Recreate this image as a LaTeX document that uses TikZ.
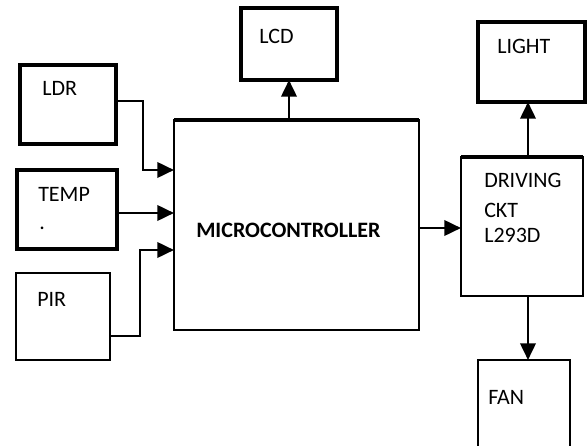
\documentclass[tikz,border=0pt]{standalone}
\usepackage{fontspec}
\setmainfont{Carlito}
\usetikzlibrary{arrows.meta}
\begin{document}
\begin{tikzpicture}[x=0.75pt,y=-0.75pt,
  box/.style={draw, line width=2.5pt, anchor=north west, inner sep=0pt, outer sep=0pt},
  thinbox/.style={draw, line width=1.1pt, anchor=north west, inner sep=0pt, outer sep=0pt},
  topedge/.style={line width=2.5pt},
  lbl/.style={anchor=base west, inner sep=0pt, font=\fontsize{16.5}{19}\selectfont},
  conn/.style={line width=2pt, -{Triangle[length=12.5pt,width=11.5pt]}}]
\useasboundingbox (0,0) rectangle (587,446);

% blocks
\node[box, minimum width=72pt, minimum height=59.25pt] (ldr) at (20,65) {};
\node[box, minimum width=75pt, minimum height=59.25pt] (temp) at (17,170) {};
\node[thinbox, minimum width=70.5pt, minimum height=65.25pt] (pir) at (16,273) {};
\node[thinbox, minimum width=183.75pt, minimum height=157.5pt] (mc) at (174,120) {};
\draw[topedge] (mc.north west) -- (mc.north east);
\node[box, minimum width=72pt, minimum height=54pt] (lcd) at (241,8) {};
\node[box, minimum width=80.25pt, minimum height=60pt] (light) at (478,22) {};
\node[thinbox, minimum width=91.5pt, minimum height=104.25pt] (drive) at (461,157) {};
\draw[topedge] (drive.north west) -- (drive.north east);
\node[thinbox, minimum width=69pt, minimum height=72pt] (fan) at (478,360) {};

% labels
\node[lbl] (ldrtxt) at (42,95) {LDR};
\node[lbl] (temptxt) at (38,201) {TEMP};
\node[lbl] (tempdot) at (39,229) {.};
\node[lbl] (pirtxt) at (37,306) {PIR};
\node[lbl] (lcdtxt) at (259,44) {LCD};
\node[lbl] (lighttxt) at (497,54) {LIGHT};
\node[lbl] (drvtxt1) at (484,187) {DRIVING};
\node[lbl] (drvtxt2) at (484,217) {CKT};
\node[lbl] (drvtxt3) at (484,243) {L293D};
\node[lbl] (fantxt) at (488,404) {FAN};
\node[lbl, font=\fontsize{16.5}{19}\selectfont\bfseries] (mctxt) at (196,238) {MICROCONTROLLER};

% connector end points on the blocks
\path ([yshift=41.25pt]mc.west) coordinate (mcin1)
      ([yshift=9pt]mc.west) coordinate (mcin2)
      ([yshift=-18.75pt]mc.west) coordinate (mcin3)
      ([yshift=-2.25pt]mc.east) coordinate (mcout)
      ([yshift=2.6pt]ldr.east) coordinate (ldrout)
      ([yshift=-14.6pt]pir.east) coordinate (pirout)
      ([xshift=4.5pt]drive.north) coordinate (drvtop)
      ([xshift=4.5pt]drive.south) coordinate (drvbot);

% connectors
\draw[conn] (ldrout) -| ([xshift=-23.25pt]mcin1) -- (mcin1);
\draw[conn] (temp.east |- mcin2) -- (mcin2);
\draw[conn] (pirout) -| ([xshift=-25.5pt]mcin3) -- (mcin3);
\draw[conn] (mc.north -| lcd.south) -- (lcd.south);
\draw[conn] (mcout) -- (drive.west |- mcout);
\draw[conn] (drvtop) -- (light.south -| drvtop);
\draw[conn] (drvbot) -- (fan.north -| drvbot);
\end{tikzpicture}
\end{document}
